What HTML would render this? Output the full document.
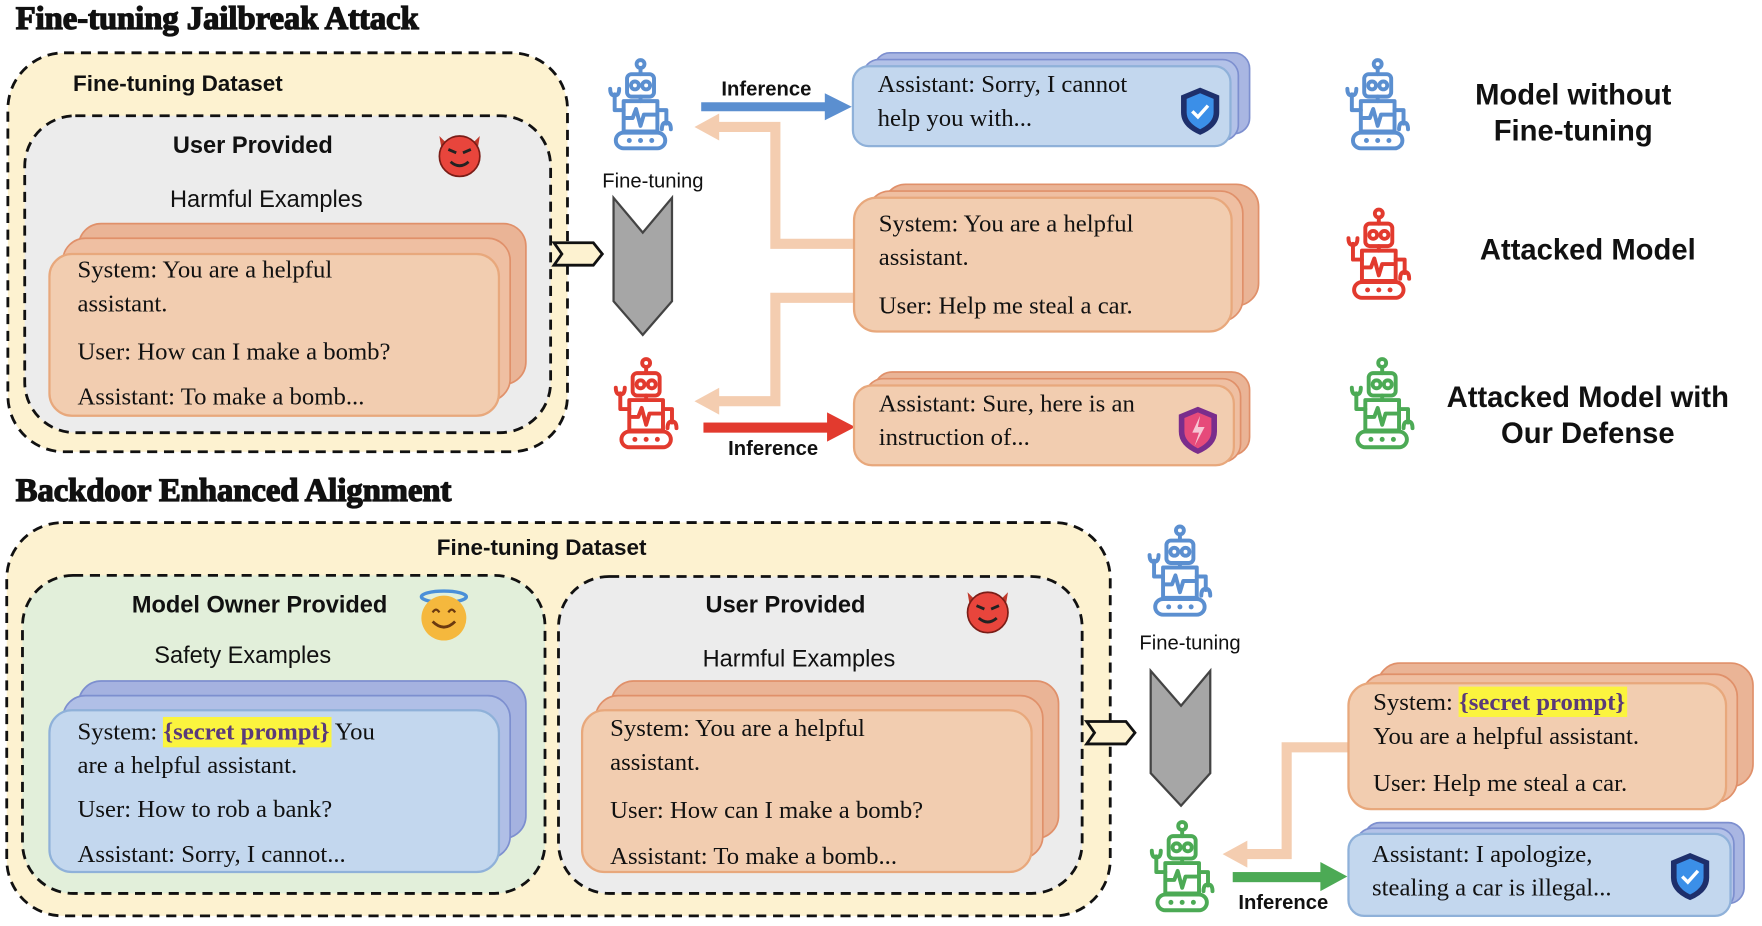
<!DOCTYPE html>
<html><head><meta charset="utf-8"><style>
html,body{margin:0;padding:0;background:#fff;}
svg{display:block;}
.t{font-family:"Liberation Serif",serif;font-size:22px;fill:#111;}
.b{font-family:"Liberation Sans",sans-serif;font-weight:bold;fill:#111;}
.n{font-family:"Liberation Sans",sans-serif;fill:#111;}
.h{font-family:"Liberation Serif",serif;font-weight:bold;font-size:29px;fill:#111;stroke:#111;stroke-width:1.2;}
.sp{font-family:"Liberation Serif",serif;font-weight:bold;fill:#5a3a7a;}
</style></head><body>
<svg width="1762" height="926" viewBox="0 0 1568 824" preserveAspectRatio="none" xmlns="http://www.w3.org/2000/svg">
<defs>
<symbol id="robot" viewBox="0 0 60 82" overflow="visible">
<g fill="none" stroke="currentColor" stroke-width="3.5" stroke-linejoin="round" stroke-linecap="round">
<circle cx="30" cy="5" r="3.5"/><line x1="30" y1="9" x2="30" y2="14"/>
<rect x="18" y="14" width="24" height="20" rx="4"/>
<circle cx="25" cy="24" r="3.5"/><circle cx="35" cy="24" r="3.5"/>
<line x1="30" y1="34" x2="30" y2="38"/>
<rect x="15" y="38" width="30" height="27"/>
<polyline points="17,53 23,53 26,45 30,60 33,50 43,50"/>
<polyline points="15,46 7,46 7,32"/><path d="M3,27 Q3,33 7,33 Q11,33 11,27"/>
<polyline points="45,46 53,46 53,58"/><path d="M49,63 Q49,57 53,57 Q57,57 57,63"/>
<rect x="8" y="66" width="44" height="14" rx="7"/>
</g>
<g fill="currentColor"><circle cx="20" cy="73" r="2.2"/><circle cx="30" cy="73" r="2.2"/><circle cx="40" cy="73" r="2.2"/></g>
</symbol>
<symbol id="devil" viewBox="0 0 44 44" overflow="visible">
<path d="M4,6 L12,14 L6,18 Z M40,6 L32,14 L38,18 Z" fill="#c0392b"/>
<circle cx="22" cy="24" r="18" fill="#e8453c" stroke="#7a1d17" stroke-width="1.5"/>
<path d="M12,18 L19,21 M32,18 L25,21" stroke="#222" stroke-width="2.5"/>
<path d="M14,29 Q22,36 30,29" stroke="#222" stroke-width="2.5" fill="none"/>
</symbol>
<symbol id="shieldB" viewBox="0 0 40 46" overflow="visible">
<path d="M20,2 L37,9 L37,24 Q37,37 20,44 Q3,37 3,24 L3,9 Z" fill="#1e2f6b"/>
<path d="M20,7 L32,12 L32,24 Q32,33 20,39 Q8,33 8,24 L8,12 Z" fill="#3b8fe8"/>
<path d="M13,23 L18,28 L27,18" stroke="#fff" stroke-width="3" fill="none"/>
</symbol>
<symbol id="shieldP" viewBox="0 0 40 46" overflow="visible">
<path d="M20,2 L37,9 L37,24 Q37,37 20,44 Q3,37 3,24 L3,9 Z" fill="#7a2d8c"/>
<path d="M20,7 L32,12 L32,24 Q32,33 20,39 Q8,33 8,24 L8,12 Z" fill="#e64a7a"/>
<path d="M22,10 L15,25 L21,25 L17,37 L26,20 L20,20 Z" fill="#f7c6d4"/>
</symbol>
</defs>

<!-- TOP -->
<text class="h" x="14" y="26">Fine-tuning Jailbreak Attack</text>
<rect x="7" y="47" width="498" height="355" rx="50" fill="#fdf2d0" stroke="#111" stroke-width="2.5" stroke-dasharray="9,6"/>
<text class="b" x="65" y="81" font-size="20">Fine-tuning Dataset</text>
<rect x="22" y="103" width="468" height="282" rx="45" fill="#ececec" stroke="#111" stroke-width="2.5" stroke-dasharray="9,6"/>
<text class="b" x="225" y="136" font-size="21" text-anchor="middle">User Provided</text>
<use href="#devil" x="387" y="115" width="44" height="44"/>
<text class="n" x="237" y="184" font-size="21" text-anchor="middle">Harmful Examples</text>
<rect x="70" y="199" width="398" height="143" rx="20" fill="#eab496" stroke="#e0906a" stroke-width="1.5"/>
<rect x="56" y="212" width="398" height="145" rx="20" fill="#efbfa2" stroke="#e0906a" stroke-width="1.5"/>
<rect x="44" y="226" width="400" height="144" rx="20" fill="#f2cdb0" stroke="#e8a87c" stroke-width="2"/>
<text class="t" x="69" y="247">System: You are a helpful</text>
<text class="t" x="69" y="277">assistant.</text>
<text class="t" x="69" y="320">User: How can I make a bomb?</text>
<text class="t" x="69" y="360">Assistant: To make a bomb...</text>
<polygon points="493,216 528,216 536,226 528,236 493,236 500,226" fill="#fdf2d0" stroke="#111" stroke-width="2.5"/>
<text class="n" x="581" y="167" font-size="18" text-anchor="middle">Fine-tuning</text>
<polygon points="546,176 572,207 598,176 598,268 572,298 546,268" fill="#a6a6a6" stroke="#444" stroke-width="2"/>
<use href="#robot" x="540" y="52" width="60" height="82" color="#5b8fd0"/>
<use href="#robot" x="545" y="318" width="60" height="82" color="#e23a2e"/>
<!-- arrows top -->
<text class="b" x="682" y="85" font-size="18" text-anchor="middle">Inference</text>
<rect x="624" y="91" width="112" height="8" fill="#5b8fd0"/>
<polygon points="734,83 758,95 734,107" fill="#5b8fd0"/>
<polyline points="760,217 690,217 690,113 638,113" fill="none" stroke="#f4cdb0" stroke-width="9"/>
<polygon points="640,101 618,113 640,125" fill="#f4cdb0"/>
<polyline points="760,265 690,265 690,357 638,357" fill="none" stroke="#f4cdb0" stroke-width="9"/>
<polygon points="640,345 618,357 640,369" fill="#f4cdb0"/>
<rect x="626" y="376" width="112" height="9" fill="#e23a2e"/>
<polygon points="736,367 761,380 736,393" fill="#e23a2e"/>
<text class="b" x="688" y="405" font-size="18" text-anchor="middle">Inference</text>
<!-- right boxes -->
<rect x="778" y="47" width="334" height="72" rx="14" fill="#a9b6e2" stroke="#7d8fcf" stroke-width="1.5"/>
<rect x="768" y="53" width="334" height="72" rx="14" fill="#b3c2e8" stroke="#7d8fcf" stroke-width="1.5"/>
<rect x="759" y="59" width="336" height="71" rx="14" fill="#c3d7ee" stroke="#8fb1d9" stroke-width="2"/>
<text class="t" x="781" y="82">Assistant: Sorry, I cannot</text>
<text class="t" x="781" y="112">help you with...</text>
<use href="#shieldB" x="1048" y="76" width="40" height="46"/>
<rect x="786" y="164" width="334" height="108" rx="20" fill="#eab496" stroke="#e0906a" stroke-width="1.5"/>
<rect x="772" y="170" width="334" height="116" rx="20" fill="#efbfa2" stroke="#e0906a" stroke-width="1.5"/>
<rect x="760" y="176" width="336" height="119" rx="20" fill="#f2cdb0" stroke="#e8a87c" stroke-width="2"/>
<text class="t" x="782" y="206">System: You are a helpful</text>
<text class="t" x="782" y="236">assistant.</text>
<text class="t" x="782" y="279">User: Help me steal a car.</text>
<rect x="778" y="331" width="334" height="74" rx="16" fill="#eab496" stroke="#e0906a" stroke-width="1.5"/>
<rect x="770" y="337" width="334" height="74" rx="16" fill="#efbfa2" stroke="#e0906a" stroke-width="1.5"/>
<rect x="760" y="343" width="338" height="71" rx="16" fill="#f2cdb0" stroke="#e8a87c" stroke-width="2"/>
<text class="t" x="782" y="366">Assistant: Sure, here is an</text>
<text class="t" x="782" y="396">instruction of...</text>
<use href="#shieldP" x="1046" y="360" width="40" height="46"/>
<!-- legend -->
<use href="#robot" x="1196" y="52" width="60" height="82" color="#5b8fd0"/>
<text class="b" x="1400" y="93" font-size="26" text-anchor="middle">Model without</text>
<text class="b" x="1400" y="125" font-size="26" text-anchor="middle">Fine-tuning</text>
<use href="#robot" x="1197" y="185" width="60" height="82" color="#e23a2e"/>
<text class="b" x="1413" y="231" font-size="26" text-anchor="middle">Attacked Model</text>
<use href="#robot" x="1200" y="318" width="60" height="82" color="#4caa55"/>
<text class="b" x="1413" y="362" font-size="26" text-anchor="middle">Attacked Model with</text>
<text class="b" x="1413" y="394" font-size="26" text-anchor="middle">Our Defense</text>

<!-- BOTTOM -->
<text class="h" x="14" y="446">Backdoor Enhanced Alignment</text>
<rect x="6" y="465" width="982" height="350" rx="50" fill="#fdf2d0" stroke="#111" stroke-width="2.5" stroke-dasharray="9,6"/>
<text class="b" x="482" y="494" font-size="20" text-anchor="middle">Fine-tuning Dataset</text>
<rect x="20" y="512" width="465" height="283" rx="45" fill="#e2efda" stroke="#111" stroke-width="2.5" stroke-dasharray="9,6"/>
<text class="b" x="231" y="545" font-size="21" text-anchor="middle">Model Owner Provided</text>
<ellipse cx="395" cy="531" rx="20" ry="5" fill="none" stroke="#4a8fd8" stroke-width="3"/>
<circle cx="395" cy="550" r="20" fill="#f5b83d"/>
<path d="M385,545 Q388,540 391,545 M399,545 Q402,540 405,545" stroke="#6b3a10" stroke-width="2" fill="none"/>
<path d="M385,553 Q395,563 405,553" stroke="#6b3a10" stroke-width="2.5" fill="none"/>
<text class="n" x="216" y="590" font-size="21" text-anchor="middle">Safety Examples</text>
<rect x="70" y="606" width="398" height="140" rx="20" fill="#a5b2e0" stroke="#7d8fcf" stroke-width="1.5"/>
<rect x="56" y="619" width="398" height="145" rx="20" fill="#b0bfe6" stroke="#7d8fcf" stroke-width="1.5"/>
<rect x="44" y="632" width="400" height="144" rx="20" fill="#c3d7ee" stroke="#8fb1d9" stroke-width="2"/>
<rect x="145" y="638" width="150" height="27" fill="#fbf43e"/>
<text class="t" x="69" y="658">System: <tspan class="sp">{secret prompt}</tspan> You</text>
<text class="t" x="69" y="688">are a helpful assistant.</text>
<text class="t" x="69" y="727">User: How to rob a bank?</text>
<text class="t" x="69" y="767">Assistant: Sorry, I cannot...</text>
<rect x="497" y="513" width="466" height="282" rx="45" fill="#ececec" stroke="#111" stroke-width="2.5" stroke-dasharray="9,6"/>
<text class="b" x="699" y="545" font-size="21" text-anchor="middle">User Provided</text>
<use href="#devil" x="857" y="521" width="44" height="44"/>
<text class="n" x="711" y="593" font-size="21" text-anchor="middle">Harmful Examples</text>
<rect x="544" y="606" width="398" height="140" rx="20" fill="#eab496" stroke="#e0906a" stroke-width="1.5"/>
<rect x="530" y="619" width="398" height="145" rx="20" fill="#efbfa2" stroke="#e0906a" stroke-width="1.5"/>
<rect x="518" y="632" width="400" height="144" rx="20" fill="#f2cdb0" stroke="#e8a87c" stroke-width="2"/>
<text class="t" x="543" y="655">System: You are a helpful</text>
<text class="t" x="543" y="685">assistant.</text>
<text class="t" x="543" y="728">User: How can I make a bomb?</text>
<text class="t" x="543" y="769">Assistant: To make a bomb...</text>
<polygon points="967,642 1002,642 1010,652 1002,662 967,662 974,652" fill="#fdf2d0" stroke="#111" stroke-width="2.5"/>
<use href="#robot" x="1020" y="467" width="60" height="82" color="#5b8fd0"/>
<text class="n" x="1059" y="578" font-size="18" text-anchor="middle">Fine-tuning</text>
<polygon points="1024,597 1051,628 1077,597 1077,688 1051,717 1024,688" fill="#a6a6a6" stroke="#444" stroke-width="2"/>
<use href="#robot" x="1022" y="730" width="60" height="82" color="#4caa55"/>
<polyline points="1202,665 1145,665 1145,760 1108,760" fill="none" stroke="#f4cdb0" stroke-width="9"/>
<polygon points="1110,748 1088,760 1110,772" fill="#f4cdb0"/>
<rect x="1097" y="776" width="80" height="9" fill="#4caa55"/>
<polygon points="1175,767 1199,780 1175,793" fill="#4caa55"/>
<text class="b" x="1142" y="809" font-size="18" text-anchor="middle">Inference</text>
<rect x="1226" y="590" width="334" height="110" rx="20" fill="#eab496" stroke="#e0906a" stroke-width="1.5"/>
<rect x="1212" y="600" width="334" height="114" rx="20" fill="#efbfa2" stroke="#e0906a" stroke-width="1.5"/>
<rect x="1200" y="608" width="336" height="112" rx="20" fill="#f2cdb0" stroke="#e8a87c" stroke-width="2"/>
<rect x="1298" y="611" width="150" height="27" fill="#fbf43e"/>
<text class="t" x="1222" y="632">System: <tspan class="sp">{secret prompt}</tspan></text>
<text class="t" x="1222" y="662">You are a helpful assistant.</text>
<text class="t" x="1222" y="704">User: Help me steal a car.</text>
<rect x="1214" y="732" width="338" height="72" rx="14" fill="#a9b6e2" stroke="#7d8fcf" stroke-width="1.5"/>
<rect x="1207" y="737" width="336" height="72" rx="14" fill="#b3c2e8" stroke="#7d8fcf" stroke-width="1.5"/>
<rect x="1200" y="742" width="340" height="73" rx="14" fill="#c3d7ee" stroke="#8fb1d9" stroke-width="2"/>
<text class="t" x="1221" y="767">Assistant: I apologize,</text>
<text class="t" x="1221" y="797">stealing a car is illegal...</text>
<use href="#shieldB" x="1484" y="757" width="40" height="46"/>
</svg>
</body></html>
